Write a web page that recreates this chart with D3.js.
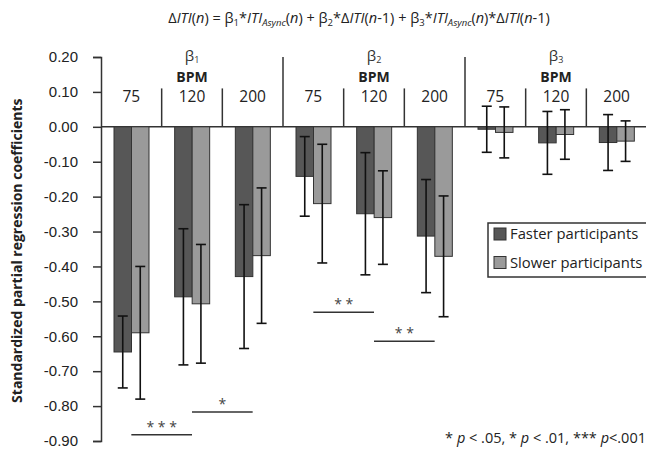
<!DOCTYPE html>
<html>
<head>
<meta charset="utf-8">
<script src="https://cdnjs.cloudflare.com/ajax/libs/d3/7.8.5/d3.min.js"></script>
<style>
  body { margin: 0; background: #fff; }
  svg { font-family: "Open Sans", "DejaVu Sans", sans-serif; }
</style>
</head>
<body>
<svg id="chart" width="646" height="450"></svg>
<script>
// data
var coefs = ["β1", "β2", "β3"];
var bpm = ["75", "120", "200"];
var series = ["Faster participants", "Slower participants"];
var faster = [-0.645, -0.487, -0.429, -0.142, -0.249, -0.313, -0.007, -0.046, -0.045];
var fasterErr = [0.103, 0.195, 0.206, 0.114, 0.175, 0.162, 0.066, 0.090, 0.080];
var slower = [-0.590, -0.507, -0.369, -0.220, -0.260, -0.371, -0.016, -0.022, -0.041];
var slowerErr = [0.190, 0.170, 0.194, 0.170, 0.134, 0.173, 0.073, 0.071, 0.058];
var yTicks = [0.2, 0.1, 0, -0.1, -0.2, -0.3, -0.4, -0.5, -0.6, -0.7, -0.8, -0.9];
var sig = [
  {from: 0, to: 1, y: -0.882, label: "* * *"},
  {from: 1, to: 2, y: -0.817, label: "*"},
  {from: 3, to: 4, y: -0.531, label: "* *"},
  {from: 4, to: 5, y: -0.614, label: "* *"}
];

var colors = ["#575757", "#9a9a9a"];
var svg = d3.select("#chart");

var cells = [];
coefs.forEach(function(c) { bpm.forEach(function(b) { cells.push(c + "_" + b); }); });

var x = d3.scaleBand().domain(cells).range([101, 647]).padding(0);
var xs = d3.scaleBand().domain(series).range([13, 48]).padding(0);
var y = d3.scaleLinear().domain([-0.9, 0.2]).range([441, 57]);

// title
var title = svg.append("text")
  .attr("x", 359).attr("y", 23)
  .attr("text-anchor", "middle")
  .attr("font-size", 14.5)
  .attr("fill", "#222");
var parts = [
  ["Δ", ""], ["ITI", "i"], ["(", ""], ["n", "i"], [") = β", ""], ["1", "s"],
  ["*", ""], ["ITI", "i"], ["Async", "si"], ["(", ""], ["n", "i"], [") + β", ""], ["2", "s"],
  ["*Δ", ""], ["ITI", "i"], ["(", ""], ["n", "i"], ["-1) + β", ""], ["3", "s"],
  ["*", ""], ["ITI", "i"], ["Async", "si"], ["(", ""], ["n", "i"], [")*Δ", ""], ["ITI", "i"],
  ["(", ""], ["n", "i"], ["-1)", ""]
];
var inSub = false;
parts.forEach(function(p) {
  var t = title.append("tspan").text(p[0]);
  if (p[1].indexOf("i") >= 0) t.attr("font-style", "italic");
  if (p[1].indexOf("s") >= 0) {
    t.attr("font-size", 9.5).attr("dy", inSub ? 0 : 3);
    inSub = true;
  } else if (inSub) {
    t.attr("dy", -3);
    inSub = false;
  }
});

// y axis
var yAxis = d3.axisLeft(y).tickValues(yTicks).tickSize(8).tickPadding(15)
  .tickFormat(d3.format(".2f"));
var gy = svg.append("g").attr("transform", "translate(101,0)").call(yAxis);
gy.selectAll("path, line").attr("stroke", "#333").attr("stroke-width", 1.5);
gy.selectAll("text").attr("font-size", 15).attr("fill", "#222")
  .text(function(d) { return d3.format(".2f")(d).replace("−", "-"); });

svg.append("text")
  .attr("transform", "translate(22," + y(-0.355) + ") rotate(-90)")
  .attr("text-anchor", "middle")
  .attr("font-size", 14)
  .attr("font-weight", "bold")
  .attr("fill", "#222")
  .text("Standardized partial regression coefficients");

// zero line
svg.append("line")
  .attr("x1", 101).attr("x2", 646).attr("y1", y(0)).attr("y2", y(0))
  .attr("stroke", "#333").attr("stroke-width", 1.5);

// dividers
cells.forEach(function(c, i) {
  if (i === 0) return;
  var major = i % 3 === 0;
  svg.append("line")
    .attr("x1", x(c)).attr("x2", x(c))
    .attr("y1", major ? y(0.2) : y(0.11)).attr("y2", y(0))
    .attr("stroke", "#333").attr("stroke-width", 1.5);
});

// group labels
coefs.forEach(function(c, gi) {
  var cx = x(c + "_120") + x.bandwidth() / 2;
  var t = svg.append("text").attr("x", cx).attr("y", 61)
    .attr("text-anchor", "middle").attr("font-size", 15).attr("fill", "#333");
  t.append("tspan").text(c.charAt(0));
  t.append("tspan").text(c.charAt(1)).attr("font-size", 9).attr("dy", 2);
  svg.append("text").attr("x", cx).attr("y", 82)
    .attr("text-anchor", "middle").attr("font-size", 14).attr("font-weight", "bold")
    .attr("fill", "#222").text("BPM");
});
cells.forEach(function(c, i) {
  svg.append("text")
    .attr("x", x(c) + x.bandwidth() / 2).attr("y", 102)
    .attr("text-anchor", "middle").attr("font-size", 15.5).attr("fill", "#222")
    .text(bpm[i % 3]);
});

// bars
var vals = [faster, slower];
var errs = [fasterErr, slowerErr];
series.forEach(function(s, si) {
  var g = svg.append("g");
  g.selectAll("rect").data(vals[si]).enter().append("rect")
    .attr("x", function(d, i) { return x(cells[i]) + xs(s); })
    .attr("width", xs.bandwidth())
    .attr("y", function(d) { return y(Math.max(0, d)); })
    .attr("height", function(d) { return Math.abs(y(d) - y(0)); })
    .attr("fill", colors[si])
    .attr("stroke", "#333").attr("stroke-width", 1);
});

// error bars
series.forEach(function(s, si) {
  var g = svg.append("g").attr("stroke", "#111").attr("stroke-width", 1.6);
  vals[si].forEach(function(d, i) {
    var cx = x(cells[i]) + xs(s) + xs.bandwidth() / 2;
    var hi = y(d + errs[si][i]), lo = y(d - errs[si][i]);
    g.append("line").attr("x1", cx).attr("x2", cx).attr("y1", hi).attr("y2", lo);
    g.append("line").attr("x1", cx - 5).attr("x2", cx + 5).attr("y1", hi).attr("y2", hi);
    g.append("line").attr("x1", cx - 5).attr("x2", cx + 5).attr("y1", lo).attr("y2", lo);
  });
});

// significance lines
sig.forEach(function(s) {
  var x1 = x(cells[s.from]) + x.bandwidth() / 2;
  var x2 = x(cells[s.to]) + x.bandwidth() / 2;
  svg.append("line").attr("x1", x1).attr("x2", x2).attr("y1", y(s.y)).attr("y2", y(s.y))
    .attr("stroke", "#333").attr("stroke-width", 1.5);
  svg.append("text").attr("x", (x1 + x2) / 2).attr("y", y(s.y) - 3)
    .attr("text-anchor", "middle").attr("font-size", 14).attr("fill", "#444")
    .text(s.label);
});

// legend
var lg = svg.append("g");
lg.append("rect").attr("x", 488).attr("y", 223).attr("width", 160).attr("height", 54)
  .attr("fill", "#fff").attr("stroke", "#333").attr("stroke-width", 1.5);
series.forEach(function(s, si) {
  var cy = 234 + si * 28.5;
  lg.append("rect").attr("x", 494).attr("y", cy - 6).attr("width", 12).attr("height", 12)
    .attr("fill", colors[si]).attr("stroke", "#333").attr("stroke-width", 1);
  lg.append("text").attr("x", 510).attr("y", cy + 5)
    .attr("font-size", 14.8).attr("fill", "#222").text(s);
});

// footnote
var fn = svg.append("text").attr("x", 646).attr("y", 443)
  .attr("text-anchor", "end").attr("font-size", 14.5).attr("fill", "#222");
[["* ", ""], ["p", "i"], [" < .05, * ", ""], ["p", "i"], [" < .01, *** ", ""], ["p", "i"], ["<.001", ""]]
  .forEach(function(p) {
    var t = fn.append("tspan").text(p[0]);
    if (p[1]) t.attr("font-style", "italic");
  });
</script>
</body>
</html>
